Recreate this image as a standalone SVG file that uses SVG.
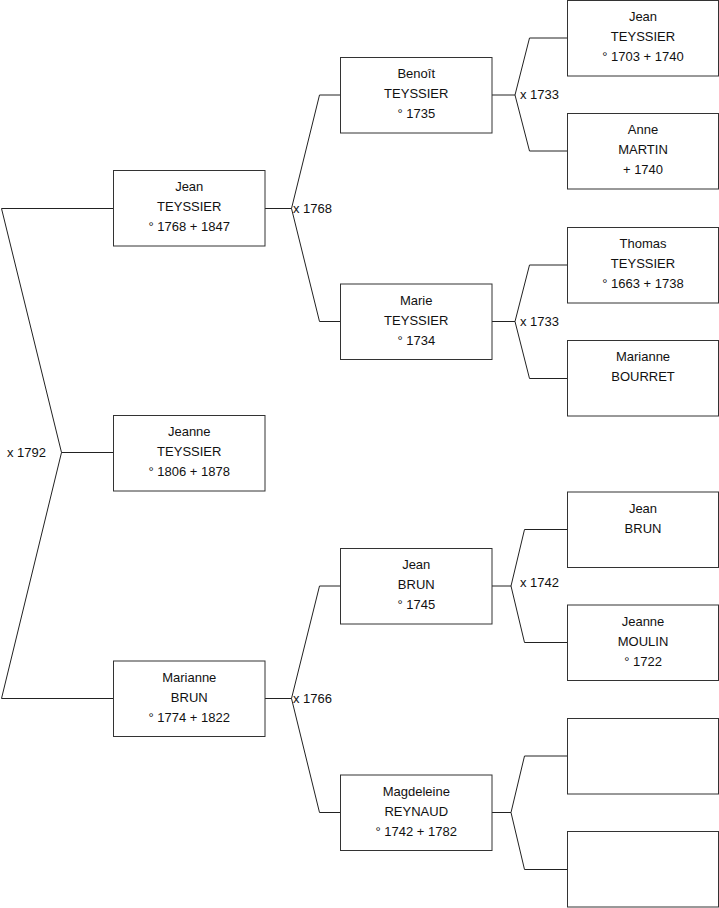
<svg xmlns="http://www.w3.org/2000/svg" width="719" height="908" viewBox="0 0 719 908">
<style>
.box{fill:#fff;stroke:#333;stroke-width:1}
.ln{fill:none;stroke:#222;stroke-width:1}
text{font-family:"Liberation Sans",Arial,sans-serif;font-size:13px;fill:#111}
.n{text-anchor:middle}
</style>
<rect width="719" height="908" fill="#fff"/>
<g id="connectors">
<path class="ln" d="M113.5,208.5H1.5L61.5,452.5L1.5,698.5H113.5M61.5,452.5H113.5"/>
<path class="ln" d="M265,208.5H291.5L319.5,95H340.5M291.5,208.5L319.5,321.5H340.5"/>
<path class="ln" d="M265,698.5H291.5L319.5,586H340.5M291.5,698.5L319.5,812.5H340.5"/>
<path class="ln" d="M492,95H515L529.5,38H567.5M515,95L529.5,151H567.5"/>
<path class="ln" d="M492,321.5H515L529.5,265H567.5M515,321.5L529.5,378.5H567.5"/>
<path class="ln" d="M492,586H511L524.5,529.5H567.5M511,586L524.5,642.5H567.5"/>
<path class="ln" d="M492,812.5H511L524.5,756H567.5M511,812.5L524.5,869.5H567.5"/>
<text x="7" y="457">x 1792</text>
<text x="293" y="213">x 1768</text>
<text x="293" y="703">x 1766</text>
<text x="520" y="99">x 1733</text>
<text x="520" y="326">x 1733</text>
<text x="520" y="587">x 1742</text>
</g>
<g id="p1"><rect class="box" x="113.5" y="170.5" width="151.5" height="75.5"/><text class="n" x="189.25" y="191">Jean</text><text class="n" x="189.25" y="211">TEYSSIER</text><text class="n" x="189.25" y="231">° 1768 + 1847</text></g>
<g id="p0"><rect class="box" x="113.5" y="415.5" width="151.5" height="75.5"/><text class="n" x="189.25" y="436">Jeanne</text><text class="n" x="189.25" y="456">TEYSSIER</text><text class="n" x="189.25" y="476">° 1806 + 1878</text></g>
<g id="p2"><rect class="box" x="113.5" y="661" width="151.5" height="75.5"/><text class="n" x="189.25" y="681.5">Marianne</text><text class="n" x="189.25" y="701.5">BRUN</text><text class="n" x="189.25" y="721.5">° 1774 + 1822</text></g>
<g id="p3"><rect class="box" x="340.5" y="57.5" width="151.5" height="75.5"/><text class="n" x="416.25" y="78">Benoît</text><text class="n" x="416.25" y="98">TEYSSIER</text><text class="n" x="416.25" y="118">° 1735</text></g>
<g id="p4"><rect class="box" x="340.5" y="284" width="151.5" height="75.5"/><text class="n" x="416.25" y="304.5">Marie</text><text class="n" x="416.25" y="324.5">TEYSSIER</text><text class="n" x="416.25" y="344.5">° 1734</text></g>
<g id="p5"><rect class="box" x="340.5" y="548.5" width="151.5" height="75.5"/><text class="n" x="416.25" y="569">Jean</text><text class="n" x="416.25" y="589">BRUN</text><text class="n" x="416.25" y="609">° 1745</text></g>
<g id="p6"><rect class="box" x="340.5" y="775" width="151.5" height="75.5"/><text class="n" x="416.25" y="795.5">Magdeleine</text><text class="n" x="416.25" y="815.5">REYNAUD</text><text class="n" x="416.25" y="835.5">° 1742 + 1782</text></g>
<g id="p7"><rect class="box" x="567.5" y="0.5" width="151" height="75.5"/><text class="n" x="643" y="20.5">Jean</text><text class="n" x="643" y="40.5">TEYSSIER</text><text class="n" x="643" y="60.5">° 1703 + 1740</text></g>
<g id="p8"><rect class="box" x="567.5" y="113.5" width="151" height="75.5"/><text class="n" x="643" y="134">Anne</text><text class="n" x="643" y="154">MARTIN</text><text class="n" x="643" y="174">+ 1740</text></g>
<g id="p9"><rect class="box" x="567.5" y="227.5" width="151" height="75.5"/><text class="n" x="643" y="248">Thomas</text><text class="n" x="643" y="268">TEYSSIER</text><text class="n" x="643" y="288">° 1663 + 1738</text></g>
<g id="p10"><rect class="box" x="567.5" y="340.5" width="151" height="75.5"/><text class="n" x="643" y="361">Marianne</text><text class="n" x="643" y="381">BOURRET</text></g>
<g id="p11"><rect class="box" x="567.5" y="492" width="151" height="75.5"/><text class="n" x="643" y="512.5">Jean</text><text class="n" x="643" y="532.5">BRUN</text></g>
<g id="p12"><rect class="box" x="567.5" y="605" width="151" height="75.5"/><text class="n" x="643" y="625.5">Jeanne</text><text class="n" x="643" y="645.5">MOULIN</text><text class="n" x="643" y="665.5">° 1722</text></g>
<g id="p13"><rect class="box" x="567.5" y="718.5" width="151" height="75.5"/></g>
<g id="p14"><rect class="box" x="567.5" y="831.5" width="151" height="75.5"/></g>
</svg>
